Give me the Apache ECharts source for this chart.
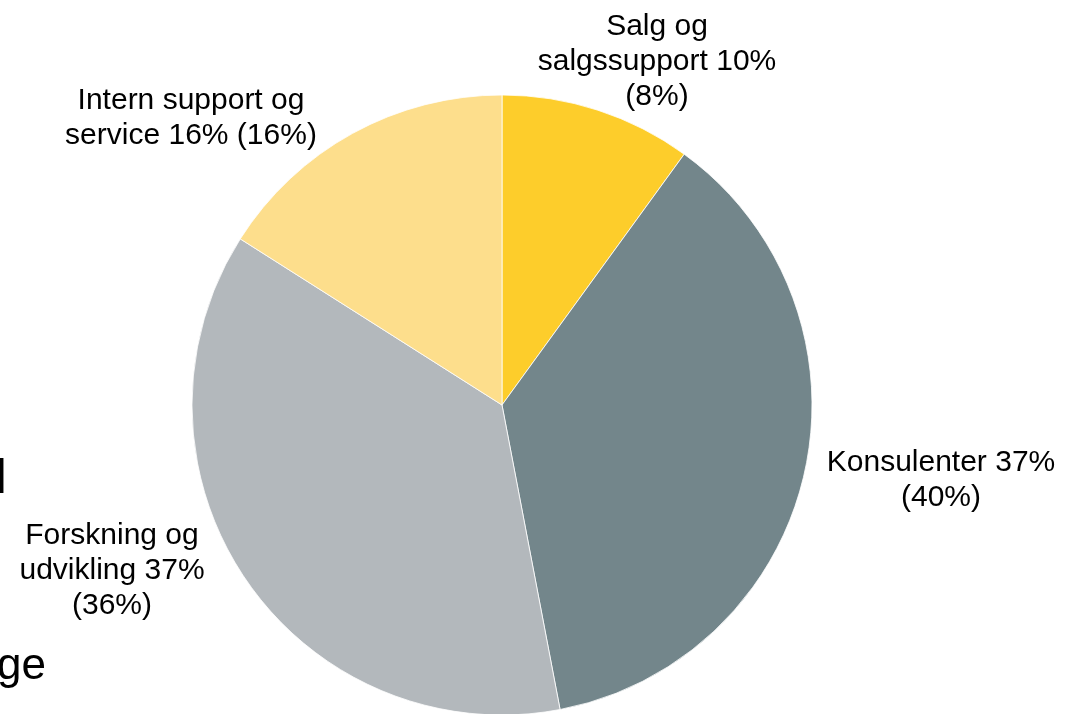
<!DOCTYPE html>
<html>
<head>
<meta charset="utf-8">
<script src="https://cdn.jsdelivr.net/npm/echarts@6/dist/echarts.min.js"></script>
<style>
html,body{margin:0;padding:0;background:#fff;}
#chart{width:1073px;height:714px;}
</style>
</head>
<body>
<div id="chart"></div>
<script>
// Data
const categories = ['Salg og\nsalgssupport', 'Konsulenter', 'Forskning og\nudvikling', 'Intern support og\nservice'];
const shares = [10, 37, 37, 16];          // current share (%)
const previousShares = [8, 40, 36, 16];   // share in parentheses (%)
const colors = ['#FDCD2B', '#73868B', '#B3B8BC', '#FDDE8C'];

// label anchor points (centre of each text block)
const labelPos = [[657, 62], [941, 480], [112, 571], [191, 118]];
const breakBeforeParen = [true, true, true, false];

const chart = echarts.init(document.getElementById('chart'), null, {renderer: 'canvas'});
chart.setOption({
  animation: false,
  backgroundColor: '#ffffff',
  graphic: [
    {type: 'text', left: -4, top: 456, style: {text: 'l', font: '48px "Liberation Sans", Arial, sans-serif', fill: '#000'}},
    {type: 'text', left: -3, top: 645, style: {text: 'ge', font: '44px "Liberation Sans", Arial, sans-serif', fill: '#000'}}
  ],
  series: [{
    type: 'pie',
    center: [502, 405],
    radius: 310,
    startAngle: 90,
    clockwise: true,
    avoidLabelOverlap: false,
    itemStyle: {borderColor: '#ffffff', borderWidth: 0.8},
    emphasis: {disabled: true},
    label: {
      show: true,
      position: 'outside',
      color: '#000',
      fontFamily: '"Liberation Sans", Arial, sans-serif',
      fontSize: 30,
      lineHeight: 35,
      align: 'center',
      formatter: function (p) {
        const i = p.dataIndex;
        return p.name + ' ' + shares[i] + '%' + (breakBeforeParen[i] ? '\n' : ' ') + '(' + previousShares[i] + '%)';
      }
    },
    labelLine: {show: false},
    labelLayout: function (params) {
      const pos = labelPos[params.dataIndex];
      return {x: pos[0], y: pos[1], align: 'center', verticalAlign: 'middle'};
    },
    data: categories.map((c, i) => ({name: c, value: shares[i], itemStyle: {color: colors[i]}}))
  }]
});
</script>
</body>
</html>
